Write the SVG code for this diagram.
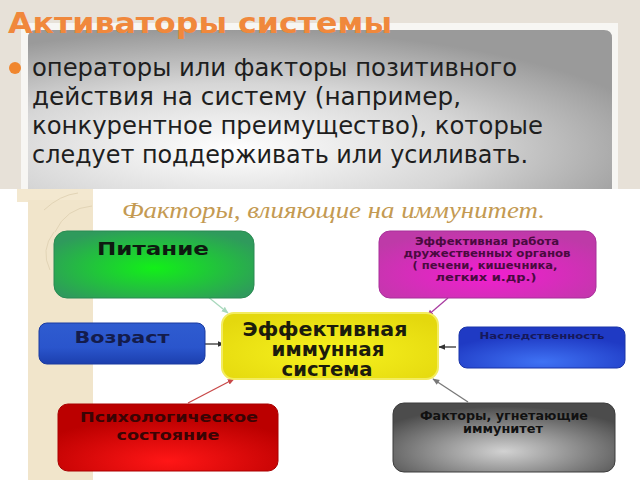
<svg xmlns="http://www.w3.org/2000/svg" width="640" height="480" viewBox="0 0 640 480">
  <defs>
    <style>
      .body { font-family: "DejaVu Sans", "Noto Sans", sans-serif; font-size: 24px; fill: #1e1e1e; }
      .title { font-family: "DejaVu Sans", "Noto Sans", sans-serif; font-weight: bold; font-size: 29px; fill: #f0883c; }
      .head { font-family: "Liberation Serif", "DejaVu Serif", serif; font-style: italic; font-size: 23px; fill: #c49a52; }
      .nb { font-family: "DejaVu Sans", "Noto Sans", sans-serif; font-weight: bold; text-anchor: middle; }
      .conn { fill: none; stroke-width: 1.3; }
    </style>
    <radialGradient id="gPanel" cx="35%" cy="75%" r="75%">
      <stop offset="0" stop-color="#ffffff"/>
      <stop offset="0.55" stop-color="#d6d6d6"/>
      <stop offset="1" stop-color="#9a9a9a"/>
    </radialGradient>
    <radialGradient id="gGreen" cx="50%" cy="55%" r="60%">
      <stop offset="0" stop-color="#12f018"/>
      <stop offset="1" stop-color="#2f9a5c"/>
    </radialGradient>
    <linearGradient id="gBlue1" x1="0" y1="0" x2="0" y2="1">
      <stop offset="0" stop-color="#2f5cd0"/>
      <stop offset="0.6" stop-color="#2a55cc"/>
      <stop offset="1" stop-color="#1c3fae"/>
    </linearGradient>
    <radialGradient id="gBlue2" cx="50%" cy="85%" r="65%">
      <stop offset="0" stop-color="#3f72f4"/>
      <stop offset="1" stop-color="#1f3ac4"/>
    </radialGradient>
    <radialGradient id="gRed" cx="50%" cy="85%" r="65%">
      <stop offset="0" stop-color="#ff1616"/>
      <stop offset="1" stop-color="#bb0000"/>
    </radialGradient>
    <radialGradient id="gYellow" cx="50%" cy="60%" r="65%">
      <stop offset="0" stop-color="#f7f21e"/>
      <stop offset="1" stop-color="#e4d80e"/>
    </radialGradient>
    <radialGradient id="gMag" cx="50%" cy="65%" r="65%">
      <stop offset="0" stop-color="#f21ed0"/>
      <stop offset="1" stop-color="#be3aa8"/>
    </radialGradient>
    <radialGradient id="gGray" cx="50%" cy="70%" r="65%">
      <stop offset="0" stop-color="#d2d2d2"/>
      <stop offset="1" stop-color="#4c4c4c"/>
    </radialGradient>
    <marker id="aDark" viewBox="0 0 10 10" refX="9" refY="5" markerWidth="7" markerHeight="7" markerUnits="userSpaceOnUse" orient="auto">
      <path d="M0,1 L10,5 L0,9 z" fill="#333"/>
    </marker>
    <marker id="aGreen" viewBox="0 0 10 10" refX="9" refY="5" markerWidth="7" markerHeight="7" markerUnits="userSpaceOnUse" orient="auto">
      <path d="M0,1 L10,5 L0,9 z" fill="#a8d8bc"/>
    </marker>
    <marker id="aMag" viewBox="0 0 10 10" refX="9" refY="5" markerWidth="7" markerHeight="7" markerUnits="userSpaceOnUse" orient="auto">
      <path d="M0,1 L10,5 L0,9 z" fill="#a83ca0"/>
    </marker>
    <marker id="aRed" viewBox="0 0 10 10" refX="9" refY="5" markerWidth="7" markerHeight="7" markerUnits="userSpaceOnUse" orient="auto">
      <path d="M0,1 L10,5 L0,9 z" fill="#c84848"/>
    </marker>
    <marker id="aGray" viewBox="0 0 10 10" refX="9" refY="5" markerWidth="7" markerHeight="7" markerUnits="userSpaceOnUse" orient="auto">
      <path d="M0,1 L10,5 L0,9 z" fill="#787878"/>
    </marker>
  </defs>

  <!-- top slide -->
  <rect x="0" y="0" width="640" height="190" fill="#e7e1d8"/>
  <rect x="21" y="23" width="597" height="170" fill="#f7f6f3"/>
  <path d="M28,189 L28,38 Q28,30 36,30 L604,30 Q612,30 612,38 L612,189 Z" fill="url(#gPanel)"/>
  <text class="title" x="8" y="33" textLength="384" lengthAdjust="spacingAndGlyphs">Активаторы системы</text>
  <circle cx="15" cy="68" r="6" fill="#f0862e"/>
  <text class="body" x="32" y="76" textLength="485" lengthAdjust="spacingAndGlyphs">операторы или факторы позитивного</text>
  <text class="body" x="32" y="105" textLength="429" lengthAdjust="spacingAndGlyphs">действия на систему (например,</text>
  <text class="body" x="32" y="134" textLength="511" lengthAdjust="spacingAndGlyphs">конкурентное преимущество), которые</text>
  <text class="body" x="32" y="163" textLength="496" lengthAdjust="spacingAndGlyphs">следует поддерживать или усиливать.</text>

  <!-- lower picture -->
  <rect x="0" y="189" width="640" height="291" fill="#ffffff"/>
  <rect x="17" y="189" width="76" height="13" fill="#f3e8d0"/>
  <rect x="28" y="200" width="65" height="280" fill="#f1e5cb"/>
  <g fill="none" stroke="#e2d4b6" stroke-width="1">
    <path d="M44,210 Q60,195 78,193"/>
    <path d="M55,232 Q66,208 92,206"/>
    <path d="M50,270 Q40,250 54,232"/>
  </g>
  <text class="head" x="122" y="218" textLength="423" lengthAdjust="spacingAndGlyphs">Факторы, влияющие на иммунитет.</text>

  <!-- connectors -->
  <g id="connectors">
    <line class="conn" x1="207" y1="296" x2="228" y2="313" stroke="#a8d8bc" marker-end="url(#aGreen)"/>
    <line class="conn" x1="448" y1="298" x2="427" y2="316" stroke="#a83ca0" marker-end="url(#aMag)"/>
    <line class="conn" x1="205" y1="344" x2="224" y2="344" stroke="#333" marker-end="url(#aDark)"/>
    <line class="conn" x1="456" y1="347" x2="439" y2="347" stroke="#333" marker-end="url(#aDark)"/>
    <line class="conn" x1="188" y1="403" x2="234" y2="379" stroke="#c84848" marker-end="url(#aRed)"/>
    <line class="conn" x1="468" y1="402" x2="433" y2="379" stroke="#787878" marker-end="url(#aGray)"/>
  </g>

  <g id="node-pitanie">
    <rect x="54" y="231" width="200" height="67" rx="13" fill="url(#gGreen)" stroke="#2a8a52" stroke-width="1"/>
    <text class="nb" x="153" y="255" font-size="17" fill="#0e1a10" textLength="112" lengthAdjust="spacingAndGlyphs">Питание</text>
  </g>

  <g id="node-vozrast">
    <rect x="39" y="323" width="166" height="41" rx="8" fill="url(#gBlue1)" stroke="#1a3aa0" stroke-width="1"/>
    <text class="nb" x="122" y="343" font-size="16" fill="#141c4c" textLength="95" lengthAdjust="spacingAndGlyphs">Возраст</text>
  </g>

  <g id="node-psych">
    <rect x="58" y="404" width="220" height="67" rx="10" fill="url(#gRed)" stroke="#a80000" stroke-width="1"/>
    <text class="nb" x="169" y="422" font-size="14" fill="#3a0404" textLength="178" lengthAdjust="spacingAndGlyphs">Психологическое</text>
    <text class="nb" x="168" y="440" font-size="14" fill="#3a0404" textLength="103" lengthAdjust="spacingAndGlyphs">состояние</text>
  </g>

  <g id="node-center">
    <rect x="222" y="313" width="216" height="66" rx="12" fill="url(#gYellow)" stroke="#f3ec60" stroke-width="2"/>
    <text class="nb" x="325" y="336" font-size="19" fill="#1c1c0c" textLength="165" lengthAdjust="spacingAndGlyphs">Эффективная</text>
    <text class="nb" x="328" y="356" font-size="19" fill="#1c1c0c" textLength="113" lengthAdjust="spacingAndGlyphs">иммунная</text>
    <text class="nb" x="327" y="376" font-size="19" fill="#1c1c0c" textLength="91" lengthAdjust="spacingAndGlyphs">система</text>
  </g>

  <g id="node-organs">
    <rect x="379" y="231" width="217" height="67" rx="11" fill="url(#gMag)" stroke="#a8309a" stroke-width="1"/>
    <text class="nb" x="487" y="245" font-size="10.5" fill="#4a0a40" textLength="144" lengthAdjust="spacingAndGlyphs">Эффективная работа</text>
    <text class="nb" x="487" y="257" font-size="10.5" fill="#4a0a40" textLength="167" lengthAdjust="spacingAndGlyphs">дружественных органов</text>
    <text class="nb" x="485" y="269" font-size="10.5" fill="#4a0a40" textLength="145" lengthAdjust="spacingAndGlyphs">( печени, кишечника,</text>
    <text class="nb" x="486" y="281" font-size="10.5" fill="#4a0a40" textLength="101" lengthAdjust="spacingAndGlyphs">легких  и.др.)</text>
  </g>

  <g id="node-heredity">
    <rect x="459" y="327" width="166" height="41" rx="8" fill="url(#gBlue2)" stroke="#1a34a8" stroke-width="1"/>
    <text class="nb" x="542" y="339" font-size="9.5" fill="#16185a" textLength="125" lengthAdjust="spacingAndGlyphs">Наследственность</text>
  </g>

  <g id="node-depress">
    <rect x="393" y="403" width="222" height="69" rx="11" fill="url(#gGray)" stroke="#3c3c3c" stroke-width="1"/>
    <text class="nb" x="504" y="420" font-size="12" fill="#111" textLength="168" lengthAdjust="spacingAndGlyphs">Факторы, угнетающие</text>
    <text class="nb" x="503" y="433" font-size="12" fill="#111" textLength="80" lengthAdjust="spacingAndGlyphs">иммунитет</text>
  </g>
</svg>
